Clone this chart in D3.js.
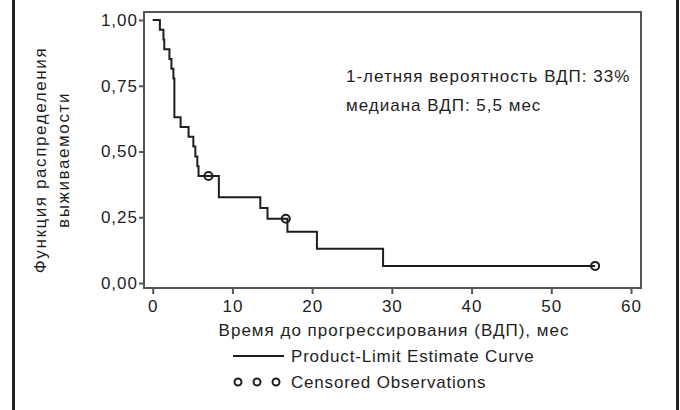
<!DOCTYPE html>
<html>
<head>
<meta charset="utf-8">
<script src="https://cdn.jsdelivr.net/npm/d3@7"></script>
<style>
  html, body { margin: 0; padding: 0; background: #fff; }
  svg { display: block; font-family: "Liberation Sans", Arial, Helvetica, sans-serif; }
</style>
</head>
<body>
<svg id="chart" width="680" height="410"></svg>
<script>
// Kaplan-Meier step data (time in months, survival probability after the step)
const stepTimes = [0, 0.9, 1.35, 1.45, 2.1, 2.35, 2.6, 2.72, 3.5, 4.5, 5.1, 5.35, 5.6, 5.75, 8.3, 13.5, 14.4, 16.9, 20.6, 28.9];
const stepSurv  = [1.0, 0.963, 0.926, 0.889, 0.852, 0.815, 0.778, 0.630, 0.593, 0.556, 0.519, 0.481, 0.444, 0.407, 0.326, 0.285, 0.244, 0.195, 0.130, 0.065];
const endTime = 55.5;
// censored observations
const censorTimes = [7.0, 16.7, 55.5];
const censorSurv  = [0.407, 0.244, 0.065];
// axes
const xTicks = [0, 10, 20, 30, 40, 50, 60];
const yTicks = [0, 0.25, 0.5, 0.75, 1.0];
const yLabelLines = ["Функция распределения", "выживаемости"];
const xTitle = "Время до прогрессирования (ВДП), мес";
const annotations = ["1-летняя вероятность ВДП: 33%", "медиана ВДП: 5,5 мес"];
const legendLine = "Product-Limit Estimate Curve";
const legendCensor = "Censored Observations";

const svg = d3.select("#chart");
const ink = "#1e1e1e";
const frameCol = "#555";
const fs = 17;
const ls = "1px";

const x = d3.scaleLinear().domain([0, 60]).range([152.7, 631]);
const y = d3.scaleLinear().domain([0, 1]).range([283, 20]);

// outer vertical rules
svg.append("line").attr("x1", 13.5).attr("x2", 13.5).attr("y1", 0).attr("y2", 410)
  .attr("stroke", "#222").attr("stroke-width", 3);
svg.append("line").attr("x1", 677.5).attr("x2", 677.5).attr("y1", 0).attr("y2", 410)
  .attr("stroke", "#222").attr("stroke-width", 3);

// plot frame
const fx0 = 144, fx1 = 641, fy0 = 12, fy1 = 288;
svg.append("rect").attr("x", fx0).attr("y", fy0).attr("width", fx1 - fx0).attr("height", fy1 - fy0)
  .attr("fill", "none").attr("stroke", frameCol).attr("stroke-width", 2);

// axes
const xAxis = d3.axisBottom(x).tickValues(xTicks).tickSize(6).tickSizeOuter(0).tickFormat(d3.format("d"));
const gx = svg.append("g").attr("transform", `translate(0,${fy1})`).call(xAxis);
gx.select(".domain").remove();
gx.selectAll(".tick line").attr("stroke", frameCol).attr("stroke-width", 2);
gx.selectAll(".tick text").attr("fill", ink).attr("font-size", fs).attr("dy", "0.9em")
  .attr("letter-spacing", ls).attr("font-family", "Liberation Sans, Arial, sans-serif");

const yFmt = d => d3.format(".2f")(d).replace(".", ",");
const yAxis = d3.axisLeft(y).tickValues(yTicks).tickSize(5).tickSizeOuter(0).tickFormat(yFmt);
const gy = svg.append("g").attr("transform", `translate(${fx0},0)`).call(yAxis);
gy.select(".domain").remove();
gy.selectAll(".tick line").attr("stroke", frameCol).attr("stroke-width", 2);
gy.selectAll(".tick text").attr("fill", ink).attr("font-size", fs).attr("x", -6)
  .attr("letter-spacing", ls).attr("font-family", "Liberation Sans, Arial, sans-serif");

// step curve
const pts = stepTimes.map((t, i) => [t, stepSurv[i]]);
pts.push([endTime, stepSurv[stepSurv.length - 1]]);
const line = d3.line().x(d => x(d[0])).y(d => y(d[1])).curve(d3.curveStepAfter);
svg.append("path").datum(pts).attr("d", line).attr("fill", "none")
  .attr("stroke", ink).attr("stroke-width", 2);

// censored markers
svg.selectAll("circle.cens").data(censorTimes).enter().append("circle")
  .attr("class", "cens")
  .attr("cx", d => x(d)).attr("cy", (d, i) => y(censorSurv[i])).attr("r", 4)
  .attr("fill", "none").attr("stroke", ink).attr("stroke-width", 2);

// annotations
svg.selectAll("text.ann").data(annotations).enter().append("text")
  .attr("class", "ann").attr("x", 346).attr("y", (d, i) => 76 + i * 29)
  .attr("dy", "0.35em").attr("font-size", fs).attr("letter-spacing", ls)
  .attr("fill", ink).text(d => d);

// y label
const ylab = svg.append("text").attr("transform", "translate(51.5,160) rotate(-90)")
  .attr("text-anchor", "middle").attr("font-size", fs).attr("letter-spacing", "1.6px").attr("fill", ink);
ylab.selectAll("tspan").data(yLabelLines).enter().append("tspan")
  .attr("x", 0).attr("y", (d, i) => -11.5 + i * 23).attr("dy", "0.35em").text(d => d);

// x title
svg.append("text").attr("x", 394).attr("y", 330).attr("dy", "0.35em")
  .attr("text-anchor", "middle").attr("font-size", fs).attr("letter-spacing", ls)
  .attr("fill", ink).text(xTitle);

// legend
svg.append("line").attr("x1", 233).attr("x2", 284).attr("y1", 356).attr("y2", 356)
  .attr("stroke", ink).attr("stroke-width", 2);
svg.append("text").attr("x", 291).attr("y", 356).attr("dy", "0.35em")
  .attr("font-size", fs).attr("letter-spacing", "0.8px").attr("fill", ink).text(legendLine);
svg.selectAll("circle.leg").data([238, 257, 276]).enter().append("circle")
  .attr("class", "leg").attr("cx", d => d).attr("cy", 382).attr("r", 3.5)
  .attr("fill", "none").attr("stroke", ink).attr("stroke-width", 2);
svg.append("text").attr("x", 291).attr("y", 382).attr("dy", "0.35em")
  .attr("font-size", fs).attr("letter-spacing", "0.8px").attr("fill", ink).text(legendCensor);
</script>
</body>
</html>
